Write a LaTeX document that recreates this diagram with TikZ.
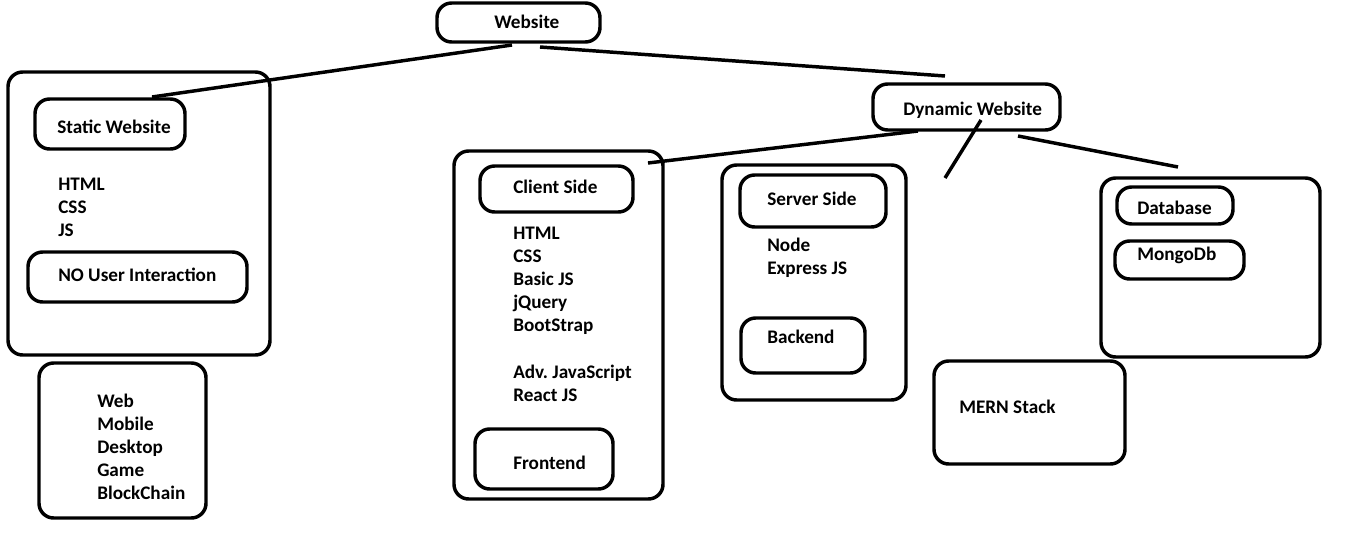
\documentclass[tikz,border=0pt]{standalone}
\usepackage{fontspec}
\setmainfont{Carlito}
\usetikzlibrary{fit}
\tikzset{
  box/.style={draw=black, line width=2.6pt, rounded corners=11pt, inner sep=0pt},
  lbl/.style={anchor=west, inner sep=0pt, font=\fontsize{14.4}{17.25}\selectfont\bfseries, align=left},
  link/.style={draw=black, line width=2.6pt, line cap=butt}
}
\begin{document}
\begin{tikzpicture}[x=0.75pt, y=-0.75pt]
\useasboundingbox (0,0) rectangle (1360,553);
% boxes
\node[box, fit={(437,3)(600,42)}] (web) {};
\node[box, fit={(8,72)(270,355)}] (staticouter) {};
\node[box, fit={(35,99)(185,149)}] (static) {};
\node[box, fit={(28,252)(247,302)}] (nouser) {};
\node[box, fit={(39,363)(206,518)}] (domains) {};
\node[box, fit={(454,151)(663,499)}] (clientouter) {};
\node[box, fit={(480,166)(633,212)}] (client) {};
\node[box, fit={(475,429)(613,489)}] (front) {};
\node[box, fit={(722,165)(906,400)}] (serverouter) {};
\node[box, fit={(740,175)(886,227)}] (server) {};
\node[box, fit={(741,318)(865,373)}] (back) {};
\node[box, fit={(873,84)(1060,130)}] (dyn) {};
\node[box, fit={(1101,178)(1320,357)}] (dbouter) {};
\node[box, fit={(1117,187)(1233,224)}] (db) {};
\node[box, fit={(1115,241)(1244,279)}] (mongo) {};
\node[box, fit={(934,361)(1125,464)}] (mern) {};
% texts
\node[lbl] (tweb) at (494,22) {Website};
\node[lbl] (tstatic) at (57,127) {Static Website};
\node[lbl] (tstaticlist) at (58,207) {HTML\\CSS\\JS};
\node[lbl] (tnouser) at (58,275) {NO User Interaction};
\node[lbl] (tdomains) at (97,447) {Web\\Mobile\\Desktop\\Game\\BlockChain};
\node[lbl] (tclient) at (513,187) {Client Side};
\node[lbl] (tclientlist) at (513,281) {HTML\\CSS\\Basic JS\\jQuery\\BootStrap};
\node[lbl] (tadv) at (513,383) {Adv.\ JavaScript\\React JS};
\node[lbl] (tfront) at (513,463) {Frontend};
\node[lbl] (tserver) at (767,199) {Server Side};
\node[lbl] (tserverlist) at (767,258) {Node\\Express JS};
\node[lbl] (tback) at (767,337) {Backend};
\node[lbl] (tdyn) at (903,110) {Dynamic Website};
\node[lbl] (tdb) at (1137,208) {Database};
\node[lbl] (tmongo) at (1137,255) {MongoDb};
\node[lbl] (tmern) at (959,407) {MERN Stack};
% connector ends
\coordinate (w1) at (512,45);
\coordinate (s1) at (152,97);
\coordinate (w2) at (540,47);
\coordinate (d0) at (945,76);
\coordinate (d1) at (918,131);
\coordinate (c1) at (648,163);
\coordinate (d2) at (981,120);
\coordinate (m1) at (945,178);
\coordinate (d3) at (1018,136);
\coordinate (b1) at (1178,167);
\draw[link] (w1) -- (s1);
\draw[link] (w2) -- (d0);
\draw[link] (d1) -- (c1);
\draw[link] (d2) -- (m1);
\draw[link] (d3) -- (b1);
\end{tikzpicture}
\end{document}
